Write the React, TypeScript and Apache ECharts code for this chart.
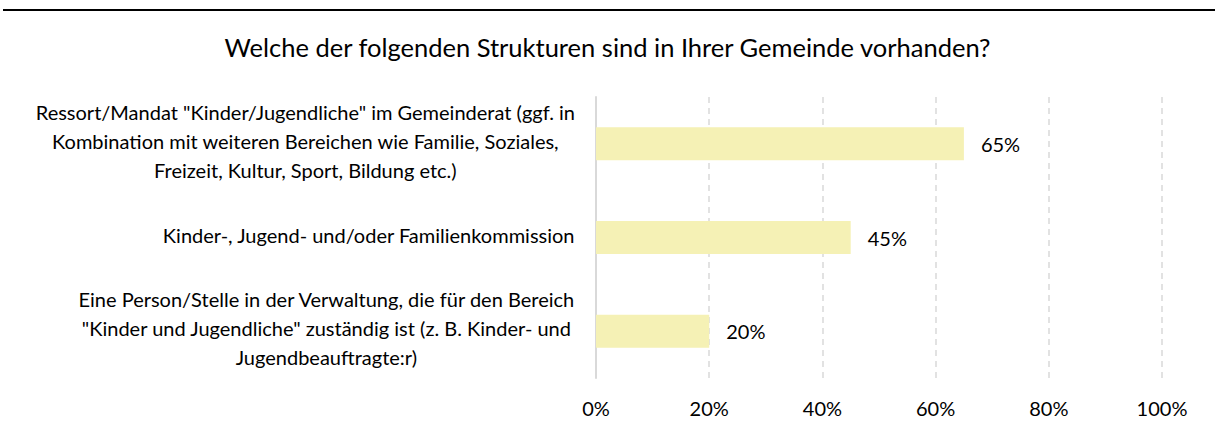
import React, { useEffect, useRef } from "react";
import * as echarts from "echarts";

const categories: string[] = [
  'Ressort/Mandat "Kinder/Jugendliche" im Gemeinderat (ggf. in\nKombination mit weiteren Bereichen wie Familie, Soziales,\nFreizeit, Kultur, Sport, Bildung etc.)',
  "Kinder-, Jugend- und/oder Familienkommission",
  'Eine Person/Stelle in der Verwaltung, die für den Bereich\n"Kinder und Jugendliche" zuständig ist (z. B. Kinder- und\nJugendbeauftragte:r)',
];
const values: number[] = [0.65, 0.45, 0.2];
const titleText = "Welche der folgenden Strukturen sind in Ihrer Gemeinde vorhanden?";
const pct = (v: number) => `${Math.round(v * 100)}%`;

const FONT = "Lato";

export default function App() {
  const ref = useRef<HTMLDivElement>(null);
  useEffect(() => {
    if (!ref.current) return;
    const chart = echarts.init(ref.current, undefined, { renderer: "svg" });
    chart.setOption({
      animation: false,
      backgroundColor: "#ffffff",
      textStyle: { fontFamily: FONT },
      title: {
        text: titleText,
        left: "center",
        top: 29,
        textStyle: { fontFamily: FONT, fontSize: 25.5, fontWeight: "normal", color: "#000" },
      },
      graphic: [
        {
          type: "line",
          shape: { x1: 3, y1: 10, x2: 1215, y2: 10 },
          style: { stroke: "#000", lineWidth: 2 },
        },
      ],
      grid: { left: 596, right: 53, top: 97, bottom: 54, containLabel: false },
      xAxis: {
        type: "value",
        min: 0,
        max: 1,
        interval: 0.2,
        axisLine: { show: false },
        axisTick: { show: false },
        axisLabel: {
          formatter: (v: number) => pct(v),
          fontFamily: FONT,
          fontSize: 20,
          color: "#000",
          margin: 20,
        },
        splitLine: { show: true, lineStyle: { color: "#d9d9d9", width: 1.5, type: [6, 5] } },
      },
      yAxis: {
        type: "category",
        inverse: true,
        data: categories,
        axisLine: { show: true, lineStyle: { color: "#d9d9d9", width: 2 } },
        axisTick: { show: false },
        axisLabel: {
          margin: 21,
          align: "right",
          padding: [0, 0, 6, 0],
          formatter: (v: string) =>
            v
              .split("\n")
              .map((l) => `{c|${l}}`)
              .join("\n"),
          rich: {
            c: { align: "center", fontFamily: FONT, fontSize: 20, lineHeight: 29, color: "#000" },
          },
        },
      },
      series: [
        {
          type: "bar",
          data: values,
          barWidth: 33,
          itemStyle: { color: "#F5F1B5" },
          label: {
            show: true,
            position: "right",
            distance: 17,
            formatter: (p: any) => pct(p.value),
            fontFamily: FONT,
            fontSize: 20,
            color: "#000",
          },
        },
      ],
    });
    return () => chart.dispose();
  }, []);
  return (
    <div
      ref={ref}
      style={{ position: "fixed", left: 0, top: 0, width: 1215, height: 432 }}
    />
  );
}
